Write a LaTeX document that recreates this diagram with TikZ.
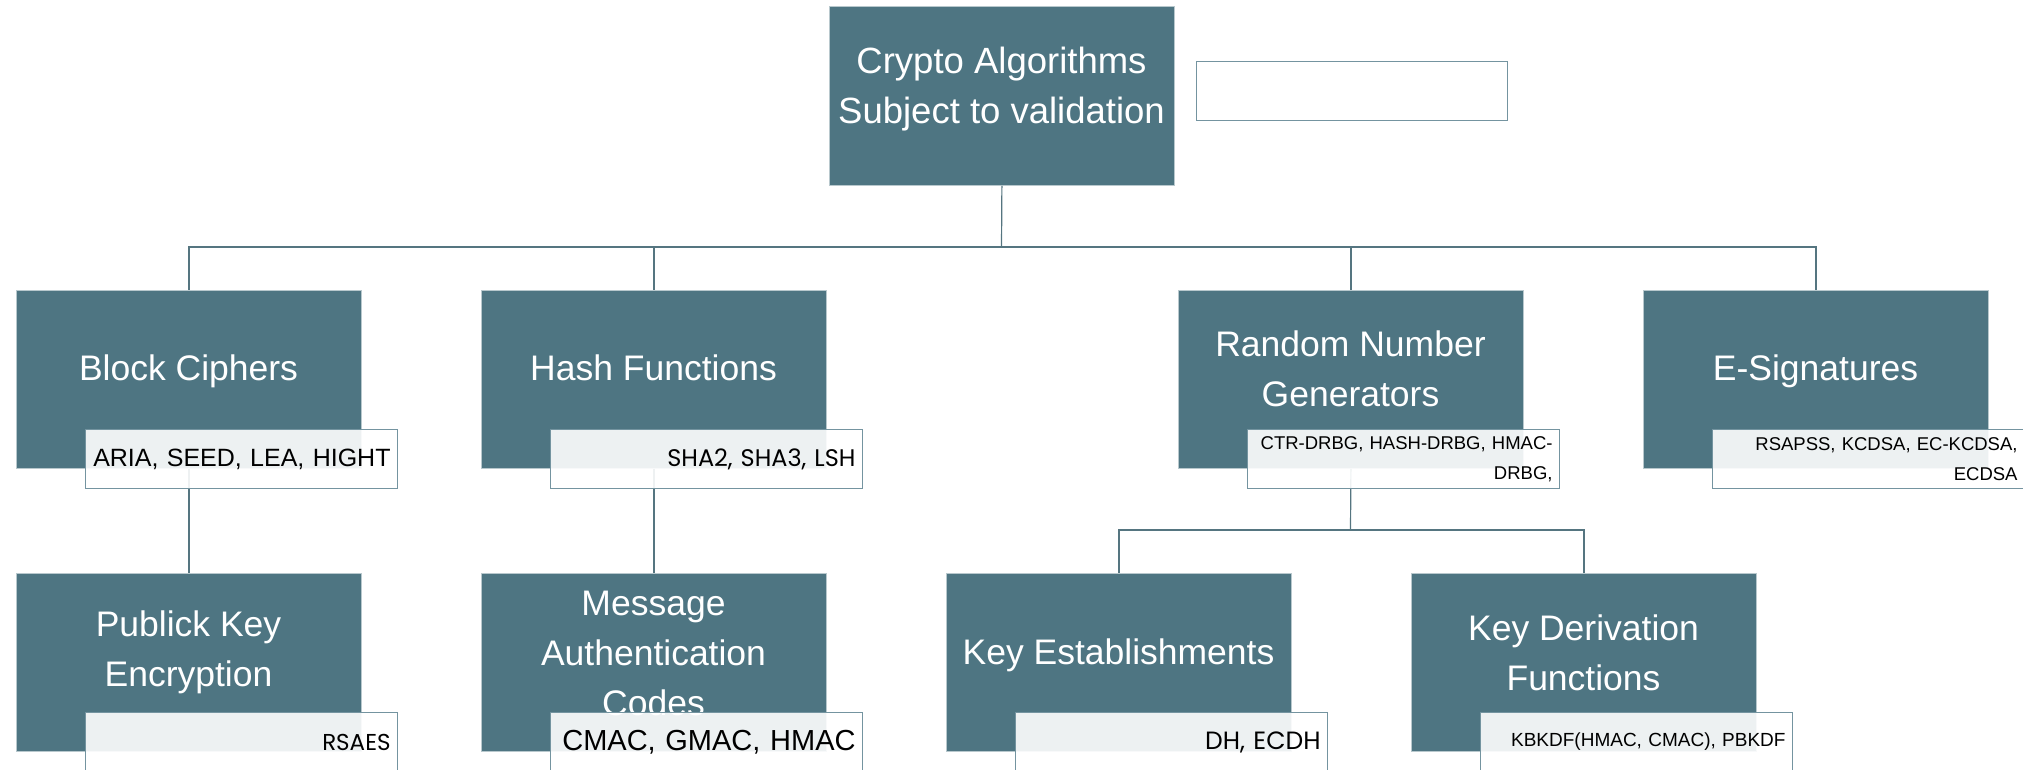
\documentclass[tikz,border=0pt]{standalone}
\usepackage{fontspec}
\setmainfont{Liberation Sans}
\newfontfamily\geofont{Poppins}
\definecolor{boxcol}{HTML}{4E7582}
\definecolor{linecol}{HTML}{557580}
\definecolor{subline}{HTML}{7494A0}
\begin{document}
\begin{tikzpicture}[x=1pt,y=-1pt,
  bigbox/.style={draw=boxcol!40!white, line width=0.8pt, fill=boxcol, anchor=north west,
    minimum width=345pt, minimum height=178pt, inner sep=0pt},
  boxtext/.style={text=white, align=center, font=\fontsize{35.5}{50}\selectfont, inner sep=0pt},
  subbox/.style={draw=subline, line width=1.1pt, fill=white, fill opacity=0.9, text opacity=1,
    anchor=north west, minimum height=59pt, text width=298pt, inner xsep=7pt, inner ysep=0pt,
    align=right, text=black},
  arialsub/.style={font=\fontsize{18.5}{30}\selectfont},
  conn/.style={draw=linecol, line width=1.2pt}]
\useasboundingbox (0,0) rectangle (2023,770);

% top node and empty box
\node[bigbox, minimum height=179pt] (top) at (829,6) {};
\node[draw=subline, line width=1.1pt, anchor=north west, minimum width=311pt, minimum height=59pt, inner sep=0pt] (empty) at (1196,61) {};

\coordinate (bus) at (1001.5,247);
\coordinate (rbus) at (1350.5,530);

% level boxes
\node[bigbox] (bc) at (16,290) {};
\node[bigbox] (hf) at (481,290) {};
\node[bigbox] (rng) at (1178,290) {};
\node[bigbox] (es) at (1643,290) {};
\node[bigbox] (pke) at (16,573) {};
\node[bigbox] (mac) at (481,573) {};
\node[bigbox] (ke) at (946,573) {};
\node[bigbox] (kdf) at (1411,573) {};

% connectors
\draw[conn] (top.south) -- (bus);
\draw[conn] (bus) -| (bc.north);
\draw[conn] (bus) -| (hf.north);
\draw[conn] (bus) -| (rng.north);
\draw[conn] (bus) -| (es.north);
\draw[conn] (bc.south) -- (pke.north);
\draw[conn] (hf.south) -- (mac.north);
\draw[conn] (rng.south) -- (rbus);
\draw[conn] (rbus) -| (ke.north);
\draw[conn] (rbus) -| (kdf.north);

% box texts
\node[boxtext, font=\fontsize{36.5}{50}\selectfont] (topt) at (1001.5,89) {Crypto Algorithms\\Subject to validation};
\node[boxtext] (bct) at (188.5,371) {Block Ciphers};
\node[boxtext] (hft) at (653.5,368) {Hash Functions};
\node[boxtext] (rngt) at (1350.5,369) {Random Number\\Generators};
\node[boxtext] (est) at (1815.5,371) {E-Signatures};
\node[boxtext] (pket) at (188.5,652) {Publick Key\\Encryption};
\node[boxtext] (mact) at (653.5,653) {Message\\Authentication\\Codes};
\node[boxtext] (ket) at (1118.5,655) {Key Establishments};
\node[boxtext] (kdft) at (1583.5,653) {Key Derivation\\Functions};

% sub boxes
\node[subbox, font=\fontsize{25}{30}\selectfont] (bcs) at (85,429) {ARIA, SEED, LEA, HIGHT};
\node[subbox, font=\geofont\fontsize{24}{30}\selectfont] (hfs) at (550,429) {SHA2, SHA3, LSH};
\node[subbox, arialsub] (rngs) at (1247,429) {CTR-DRBG, HASH-DRBG, HMAC-\\DRBG,};
\node[subbox, arialsub] (ess) at (1712,429) {RSAPSS, KCDSA, EC-KCDSA,\\ECDSA};
\node[subbox, font=\geofont\fontsize{23}{30}\selectfont] (pkes) at (85,712) {RSAES};
\node[subbox, font=\fontsize{29}{30}\selectfont] (macs) at (550,712) {CMAC, GMAC, HMAC};
\node[subbox, font=\geofont\fontsize{25}{30}\selectfont] (kes) at (1015,712) {DH, ECDH};
\node[subbox, font=\fontsize{19}{30}\selectfont] (kdfs) at (1480,712) {KBKDF(HMAC, CMAC), PBKDF};
\end{tikzpicture}
\end{document}
